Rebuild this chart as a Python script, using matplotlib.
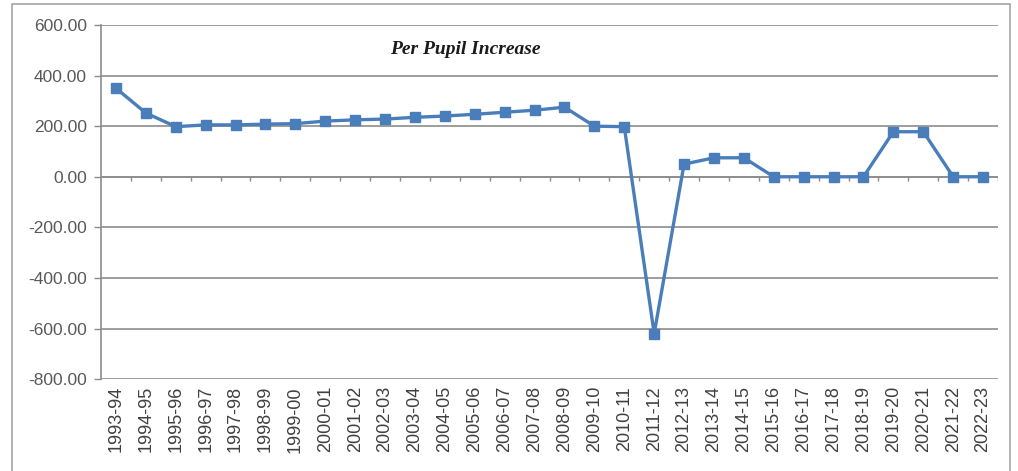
import matplotlib.pyplot as plt
from matplotlib.patches import Rectangle

# school years and per pupil change
years = ["1993-94", "1994-95", "1995-96", "1996-97", "1997-98", "1998-99",
         "1999-00", "2000-01", "2001-02", "2002-03", "2003-04", "2004-05",
         "2005-06", "2006-07", "2007-08", "2008-09", "2009-10", "2010-11",
         "2011-12", "2012-13", "2013-14", "2014-15", "2015-16", "2016-17",
         "2017-18", "2018-19", "2019-20", "2020-21", "2021-22", "2022-23"]
increase = [350, 252, 198, 205, 205, 208, 210, 220, 225, 228, 235, 240,
            247, 255, 263, 275, 200, 198, -620, 50, 75, 75, 0, 0,
            0, 0, 178, 178, 0, 0]

y_ticks = [600, 400, 200, 0, -200, -400, -600, -800]

fig = plt.figure(figsize=(10.18, 4.71), dpi=100)
ax = fig.add_axes([0.0992, 0.195, 0.8812, 0.752])

# outer chart border
fig.patches.append(Rectangle((12 / 1018, -0.02), 998 / 1018, 1.02 - 4 / 471,
                             transform=fig.transFigure, fill=False,
                             edgecolor="#a6a6a6", linewidth=1.2))

x = list(range(len(years)))
ax.plot(x, increase, color="#4a7ebb", linewidth=2.4, marker="s",
        markersize=6.5, markerfacecolor="#4a7ebb", markeredgecolor="#4a7ebb",
        zorder=3)

ax.set_xlim(-0.5, len(years) - 0.5)
ax.set_ylim(-800, 600)
ax.set_yticks(y_ticks)
ax.set_yticklabels([f"{v:.2f}" for v in y_ticks], fontsize=12.5,
                   color="#595959", family="Liberation Sans")
for v in y_ticks:
    ax.axhline(v, color="#8c8c8c", linewidth=1.2, zorder=1)

# category axis crosses at zero with ticks between categories
ax.axhline(0, color="#8c8c8c", linewidth=1.2, zorder=2)
ax.vlines([i + 0.5 for i in x], -18, 0, color="#8c8c8c", linewidth=1.0,
          zorder=2)

ax.set_xticks(x)
ax.set_xticklabels(years, rotation=90, fontsize=13, color="#404040",
                   family="Liberation Sans")
ax.tick_params(axis="x", length=0, pad=5)
ax.tick_params(axis="y", length=5, color="#8c8c8c", width=1.0, pad=5)

for side in ["top", "right", "bottom"]:
    ax.spines[side].set_visible(False)
ax.spines["left"].set_color("#8c8c8c")
ax.spines["left"].set_linewidth(1.2)

ax.text(0.406, 0.93, "Per Pupil Increase", transform=ax.transAxes,
        ha="center", va="center", fontsize=14, fontweight="bold",
        fontstyle="italic", family="Liberation Serif", color="#1a1a1a")

plt.savefig("out.png")
